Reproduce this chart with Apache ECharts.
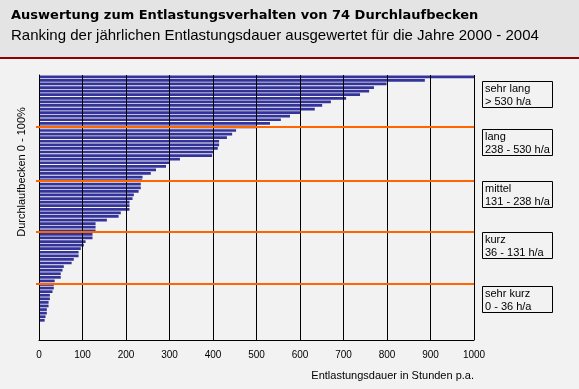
<!DOCTYPE html>
<html><head><meta charset="utf-8">
<script src="https://cdn.jsdelivr.net/npm/echarts@6/dist/echarts.min.js"></script>
<style>html,body{margin:0;padding:0;background:#f2f2f2}#c{width:579px;height:389px}</style>
</head><body><div id="c"></div>
<script>
const titleText = 'Auswertung zum Entlastungsverhalten von 74 Durchlaufbecken';
const subtitleText = 'Ranking der jährlichen Entlastungsdauer ausgewertet für die Jahre 2000 - 2004';
const xAxisName = 'Entlastungsdauer in Stunden p.a.';
const yAxisName = 'Durchlaufbecken 0 - 100%';

// Rank of each basin (1 = longest overflow duration)
const basins = ['1','2','3','4','5','6','7','8','9','10','11','12','13','14','15','16','17','18','19','20',
  '21','22','23','24','25','26','27','28','29','30','31','32','33','34','35','36','37','38','39','40',
  '41','42','43','44','45','46','47','48','49','50','51','52','53','54','55','56','57','58','59','60',
  '61','62','63','64','65','66','67','68','69','70','71','72','73','74'];

// Overflow duration in hours per year
const hours = [1050, 887, 799, 770, 759, 738, 706, 671, 651, 634,
  602, 577, 556, 531, 499, 453, 444, 432, 414, 414,
  411, 400, 398, 324, 300, 292, 269, 257, 238, 237,
  234, 234, 229, 218, 215, 208, 208, 208, 188, 183,
  156, 130, 130, 130, 123, 123, 107, 103, 96, 91,
  91, 80, 75, 57, 54, 50, 50, 36, 34, 34,
  31, 25, 25, 22, 22, 18, 18, 15, 13, 2,
  0, 0, 0, 0];

// Class boundaries, in basin units along the vertical axis
const bandBounds = [14.45, 29.4, 43.9, 58.4];

const bandLabels = ['sehr lang\n> 530 h/a', 'lang\n238 - 530 h/a', 'mittel\n131 - 238 h/a', 'kurz\n36 - 131 h/a', 'sehr kurz\n0 - 36 h/a'];
const bandBoxTops = [81, 129, 181, 232, 286];

const FONT = '"Liberation Sans", Arial, sans-serif';

const graphics = [
  {type:'rect', z:-10, silent:true, shape:{x:0, y:0, width:579, height:57}, style:{fill:'#e4e4e4'}},
  {type:'rect', z:-10, silent:true, shape:{x:0, y:57, width:579, height:2}, style:{fill:'#8b0000'}}
];
bandLabels.forEach((t, i) => {
  graphics.push({type:'rect', silent:true, shape:{x:482.5, y:bandBoxTops[i] + 0.5, width:70, height:26}, style:{fill:'none', stroke:'#000', lineWidth:1}});
  graphics.push({type:'text', silent:true, x:485, y:bandBoxTops[i] + 1.5, style:{text:t, font:'11px ' + FONT, fill:'#000', lineHeight:13, verticalAlign:'top', align:'left'}});
});

const chart = echarts.init(document.getElementById('c'), null, {renderer:'canvas'});
chart.setOption({
  animation: false,
  backgroundColor: '#f2f2f2',
  title: [
    {text: titleText, left: 6, top: 4, textStyle:{fontFamily: '"DejaVu Sans", Verdana, sans-serif', fontSize: 13, fontWeight: 'bold', color:'#000'}},
    {text: subtitleText, left: 6, top: 23, textStyle:{fontFamily: FONT, fontSize: 15, fontWeight: 'normal', color:'#000'}}
  ],
  grid: {left: 39, right: 105, top: 75, bottom: 49, containLabel: false},
  xAxis: {
    type: 'value', min: 0, max: 1000, interval: 100,
    name: xAxisName, nameLocation: 'end', nameGap: 0,
    nameTextStyle: {fontFamily: FONT, fontSize: 11, color: '#000', align: 'right', verticalAlign: 'top', padding: [30, 0, 0, 0]},
    axisLine: {onZero: false, lineStyle: {color: '#000', width: 1}},
    axisTick: {show: false},
    axisLabel: {fontFamily: FONT, fontSize: 10, color: '#000', margin: 10, formatter: v => String(v)},
    splitLine: {show: true, lineStyle: {color: '#000', width: 1}}
  },
  yAxis: [
    {
      type: 'category', data: basins, inverse: true,
      name: yAxisName, nameLocation: 'middle', nameGap: 12,
      nameTextStyle: {fontFamily: FONT, fontSize: 11, color: '#000', padding: [0, 0, 0, 71]},
      axisLine: {lineStyle: {color: '#000', width: 1}},
      axisTick: {show: false}, axisLabel: {show: false}, splitLine: {show: false}
    },
    {
      type: 'value', min: 0, max: 74, inverse: true, position: 'left',
      axisLine: {show: false, onZero: false}, axisLabel: {show: false}, splitLine: {show: false},
      axisTick: {show: true, customValues: bandBounds, length: 3, lineStyle: {color: '#ff6600', width: 2}}
    }
  ],
  series: [
    {
      type: 'line', xAxisIndex: 0, yAxisIndex: 1, data: [], z: -3, silent: true,
      markLine: {
        silent: true, symbol: 'none', animation: false,
        label: {show: false},
        lineStyle: {color: '#ff6600', width: 2, type: 'solid'},
        data: bandBounds.map(v => ({yAxis: v}))
      }
    },
    {
      type: 'bar', xAxisIndex: 0, yAxisIndex: 0, data: hours, z: -1,
      barWidth: '76%', clip: true, silent: true,
      itemStyle: {color: '#333399'}
    }
  ],
  graphic: graphics
});
</script>
</body></html>
